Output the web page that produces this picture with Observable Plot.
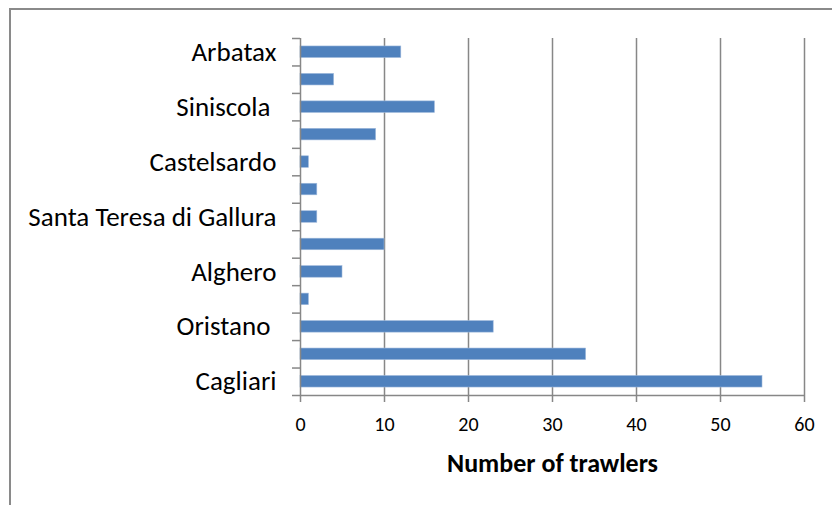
<!DOCTYPE html>
<html>
<head>
<meta charset="utf-8">
<script src="https://cdn.jsdelivr.net/npm/d3@7"></script>
<script src="https://cdn.jsdelivr.net/npm/@observablehq/plot@0.6"></script>
<style>
  html, body { margin: 0; padding: 0; background: #fff; }
  #wrap { position: relative; width: 832px; height: 505px; overflow: hidden; }
  #border {
    position: absolute; left: 9px; top: 8px; width: 900px; height: 600px;
    border-top: 2px solid #8a8a8a; border-left: 2px solid #8a8a8a;
    box-sizing: border-box;
  }
  #chart { position: absolute; left: 0; top: 0; }
</style>
</head>
<body>
<div id="wrap">
  <div id="border"></div>
  <div id="chart"></div>
</div>
<script>
// Ports, bottom to top; only every other one carries a label on the axis
const ports = ["Cagliari", "", "Oristano\u00a0", "", "Alghero", "", "Santa Teresa di Gallura", "", "Castelsardo", "", "Siniscola\u00a0", "", "Arbatax"];
const trawlers = [55, 34, 23, 1, 5, 10, 2, 2, 1, 9, 16, 4, 12];
const xTicks = [0, 10, 20, 30, 40, 50, 60];
const axisTitle = "Number of trawlers";

const rows = ports.map((name, i) => ({i, name, value: trawlers[i]}));
const labelled = rows.filter(d => d.name !== "").map(d => d.i);
const boundaries = d3.range(-0.5, ports.length, 1);

const grey = "#878787";
const font = "Carlito, Calibri, Lato, sans-serif";

const chart = Plot.plot({
  width: 832,
  height: 505,
  marginLeft: 300,
  marginRight: 28,
  marginTop: 38,
  marginBottom: 110,
  style: {fontFamily: font, background: "transparent", color: "#000"},
  x: {domain: [0, 60]},
  y: {domain: [-0.5, ports.length - 0.5]},
  marks: [
    Plot.gridX(xTicks.slice(1), {stroke: grey, strokeOpacity: 1, strokeWidth: 1.5}),
    Plot.rectX(rows, {
      x1: 0, x2: "value",
      y1: d => d.i - 0.21, y2: d => d.i + 0.21,
      fill: "#4F81BD", stroke: "#9db8db", strokeWidth: 0.6
    }),
    Plot.ruleX([0], {stroke: grey, strokeWidth: 1.5}),
    Plot.ruleY([-0.5], {stroke: grey, strokeWidth: 1.5}),
    // boundary ticks between categories
    Plot.axisY({ticks: boundaries, tickFormat: () => "", tickSize: 8, stroke: grey, strokeWidth: 1.5, label: null}),
    Plot.axisY({ticks: labelled, tickFormat: i => ports[i], tickSize: 0, tickPadding: 24, fontSize: 27, label: null}),
    Plot.axisX({ticks: xTicks, tickSize: 7, tickPadding: 14, fontSize: 20, stroke: grey, strokeWidth: 1.5, label: null}),
    Plot.text([axisTitle], {frameAnchor: "bottom", dy: 76, fontSize: 26, fontWeight: "bold", fill: "#000"})
  ]
});
document.getElementById("chart").append(chart);
</script>
</body>
</html>
